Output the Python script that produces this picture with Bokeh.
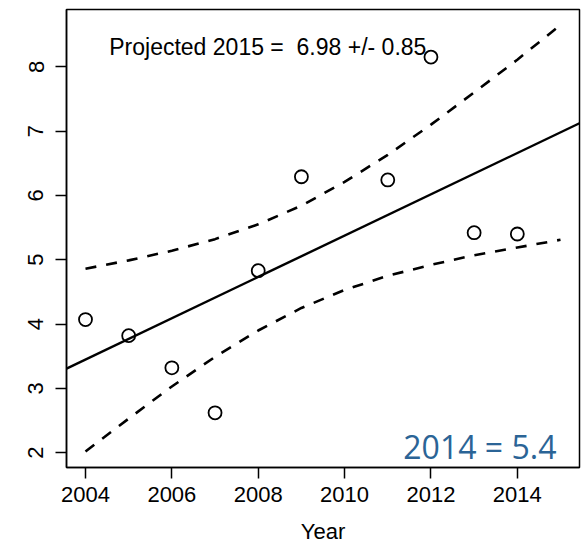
from bokeh.plotting import figure
from bokeh.models import ColumnDataSource, FixedTicker, Label, Slope
from bokeh.embed import file_html
from bokeh.resources import INLINE

# observed values
years = [2004, 2005, 2006, 2007, 2008, 2009, 2011, 2012, 2013, 2014]
values = [4.07, 3.82, 3.32, 2.62, 4.83, 6.29, 6.24, 8.15, 5.42, 5.40]

# fitted trend
fit_slope = 0.321
projected_2015 = 6.98
projected_err = 0.85

# confidence band, read per year
band_years = [2004, 2005, 2006, 2007, 2008, 2009, 2010, 2011, 2012, 2013, 2014, 2015]
band_upper = [4.86, 4.99, 5.14, 5.32, 5.55, 5.84, 6.21, 6.63, 7.10, 7.60, 8.11, 8.65]
band_lower = [2.02, 2.53, 3.03, 3.49, 3.90, 4.25, 4.53, 4.75, 4.92, 5.07, 5.19, 5.31]

x_ticks = [2004, 2006, 2008, 2010, 2012, 2014]
y_ticks = [2, 3, 4, 5, 6, 7, 8]

src = ColumnDataSource(data=dict(x=years, y=values))
band = ColumnDataSource(data=dict(x=band_years, up=band_upper, lo=band_lower))

FONT = "Liberation Sans"

p = figure(width=581, height=546, x_range=(2003.56, 2015.44), y_range=(1.77, 8.89),
           output_backend="svg", toolbar_location=None, tools="",
           min_border_left=66, min_border_right=2, min_border_top=9, min_border_bottom=78)

p.grid.visible = False
p.outline_line_color = "black"
p.outline_line_width = 1.5
p.background_fill_color = "white"
p.border_fill_color = "white"

p.xaxis.ticker = FixedTicker(ticks=x_ticks)
p.yaxis.ticker = FixedTicker(ticks=y_ticks)
p.xaxis.axis_label = "Year"
for ax in (p.xaxis[0], p.yaxis[0]):
    ax.axis_line_color = "black"
    ax.axis_line_width = 1.5
    ax.major_tick_line_color = "black"
    ax.major_tick_line_width = 1.5
    ax.major_tick_in = 0
    ax.major_tick_out = 11
    ax.minor_tick_line_color = None
    ax.major_label_text_font = FONT
    ax.major_label_text_font_size = "22px"
    ax.major_label_text_color = "black"
    ax.axis_label_text_font = FONT
    ax.axis_label_text_font_size = "22px"
    ax.axis_label_text_font_style = "normal"
    ax.axis_label_text_color = "black"
p.xaxis.major_label_standoff = 8
p.xaxis.axis_label_standoff = 14
p.yaxis.major_label_orientation = "vertical"
p.yaxis.major_label_standoff = 12

# trend line across the whole plot
p.add_layout(Slope(gradient=fit_slope, y_intercept=projected_2015 - fit_slope * 2015,
                   line_color="black", line_width=2.4))

p.line("x", "up", source=band, line_color="black", line_width=2.6, line_dash="11 10")
p.line("x", "lo", source=band, line_color="black", line_width=2.6, line_dash="11 10")

p.scatter("x", "y", source=src, marker="circle", size=13, fill_color=None,
          line_color="black", line_width=1.8)

p.add_layout(Label(x=2004.55, y=8.30,
                   text="Projected 2015 =\u00a0 %.2f +/- %.2f" % (projected_2015, projected_err),
                   text_font=FONT, text_font_size="23px", text_color="black",
                   text_baseline="alphabetic"))
p.add_layout(Label(x=2011.36, y=2.09, text="2014 = 5.4",
                   text_font="Open Sans", text_font_size="32px", text_color="#2B6496",
                   text_baseline="alphabetic"))

open("out.html", "w").write(file_html(p, INLINE))
